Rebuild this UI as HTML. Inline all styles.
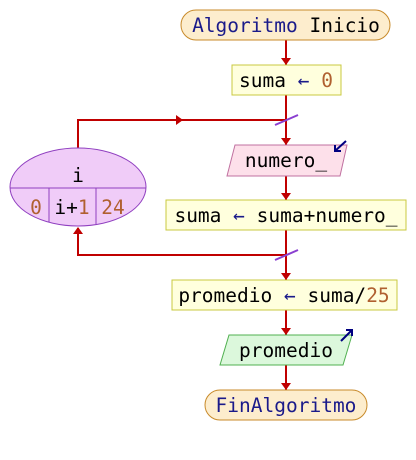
<!DOCTYPE html>
<html><head><meta charset="utf-8"><style>
body{margin:0;background:#fff;width:416px;height:455px;overflow:hidden}
svg text{font-family:"DejaVu Sans Mono","Liberation Mono",monospace;font-size:19.5px}
</style></head><body>
<svg width="416" height="455" xmlns="http://www.w3.org/2000/svg">
<defs><clipPath id="ec"><ellipse cx="78" cy="187" rx="68" ry="39"/></clipPath></defs>
<g stroke="#c00000" stroke-width="2" fill="none">
<line x1="286" y1="40" x2="286" y2="65"/>
<line x1="286" y1="95" x2="286" y2="145"/>
<polyline points="78,148 78,120 286,120"/>
<line x1="286" y1="176" x2="286" y2="200"/>
<line x1="286" y1="230" x2="286" y2="280"/>
<polyline points="286,255 78,255 78,228"/>
<line x1="286" y1="310" x2="286" y2="335"/>
<line x1="286" y1="365" x2="286" y2="390"/>
</g>
<g fill="#c00000">
<polygon points="281,58 291,58 286,65"/>
<polygon points="281,138 291,138 286,145"/>
<polygon points="281,193 291,193 286,200"/>
<polygon points="281,273 291,273 286,280"/>
<polygon points="281,328 291,328 286,335"/>
<polygon points="281,383 291,383 286,390"/>
<polygon points="176,115 183,120 176,125"/>
<polygon points="73,234 83,234 78,227"/>
</g>
<g stroke="#8a3fd0" stroke-width="2">
<line x1="275" y1="125" x2="298" y2="115"/>
<line x1="275" y1="260" x2="298" y2="250"/>
</g>
<rect x="181" y="10" width="209" height="30" rx="15" fill="#fdedcd" stroke="#c88a2a"/>
<text x="286" y="32" text-anchor="middle" fill="#1a1a8a">Algoritmo <tspan fill="#000">Inicio</tspan></text>
<rect x="232" y="65" width="109" height="30" fill="#ffffdd" stroke="#c8c840"/>
<text x="286" y="87" text-anchor="middle">suma <tspan fill="#1a1a8a">←</tspan> <tspan fill="#b06030">0</tspan></text>
<polygon points="235,145 347,145 340,176 227,176" fill="#fde0ea" stroke="#c070a0"/>
<text x="286" y="167" text-anchor="middle">numero_</text>
<g stroke="#000080" stroke-width="2" fill="none"><line x1="346" y1="141" x2="335" y2="151"/><polyline points="335,145 335,151 341,151"/></g>
<rect x="166" y="200" width="240" height="30" fill="#ffffdd" stroke="#c8c840"/>
<text x="286" y="222" text-anchor="middle">suma <tspan fill="#1a1a8a">←</tspan> suma+numero_</text>
<ellipse cx="78" cy="187" rx="68" ry="39" fill="#f0ccf8" stroke="#9040c0"/>
<g stroke="#9040c0" clip-path="url(#ec)"><line x1="0" y1="188" x2="160" y2="188"/><line x1="49" y1="188" x2="49" y2="230"/><line x1="96" y1="188" x2="96" y2="230"/></g>
<text x="78" y="182" text-anchor="middle">i</text>
<text x="36" y="214" text-anchor="middle" fill="#b06030">0</text>
<text x="72" y="214" text-anchor="middle">i+<tspan fill="#b06030">1</tspan></text>
<text x="113" y="214" text-anchor="middle" fill="#b06030">24</text>
<rect x="172" y="280" width="225" height="30" fill="#ffffdd" stroke="#c8c840"/>
<text x="284" y="302" text-anchor="middle">promedio <tspan fill="#1a1a8a">←</tspan> suma/<tspan fill="#b06030">25</tspan></text>
<polygon points="229,335 352,335 343,365 220,365" fill="#dcf8dc" stroke="#50b050"/>
<text x="286" y="357" text-anchor="middle">promedio</text>
<g stroke="#000080" stroke-width="2" fill="none"><line x1="341" y1="341" x2="352" y2="330"/><polyline points="346,330 352,330 352,336"/></g>
<rect x="205" y="390" width="162" height="30" rx="15" fill="#fdedcd" stroke="#c88a2a"/>
<text x="286" y="412" text-anchor="middle" fill="#1a1a8a">FinAlgoritmo</text>
</svg>
</body></html>
